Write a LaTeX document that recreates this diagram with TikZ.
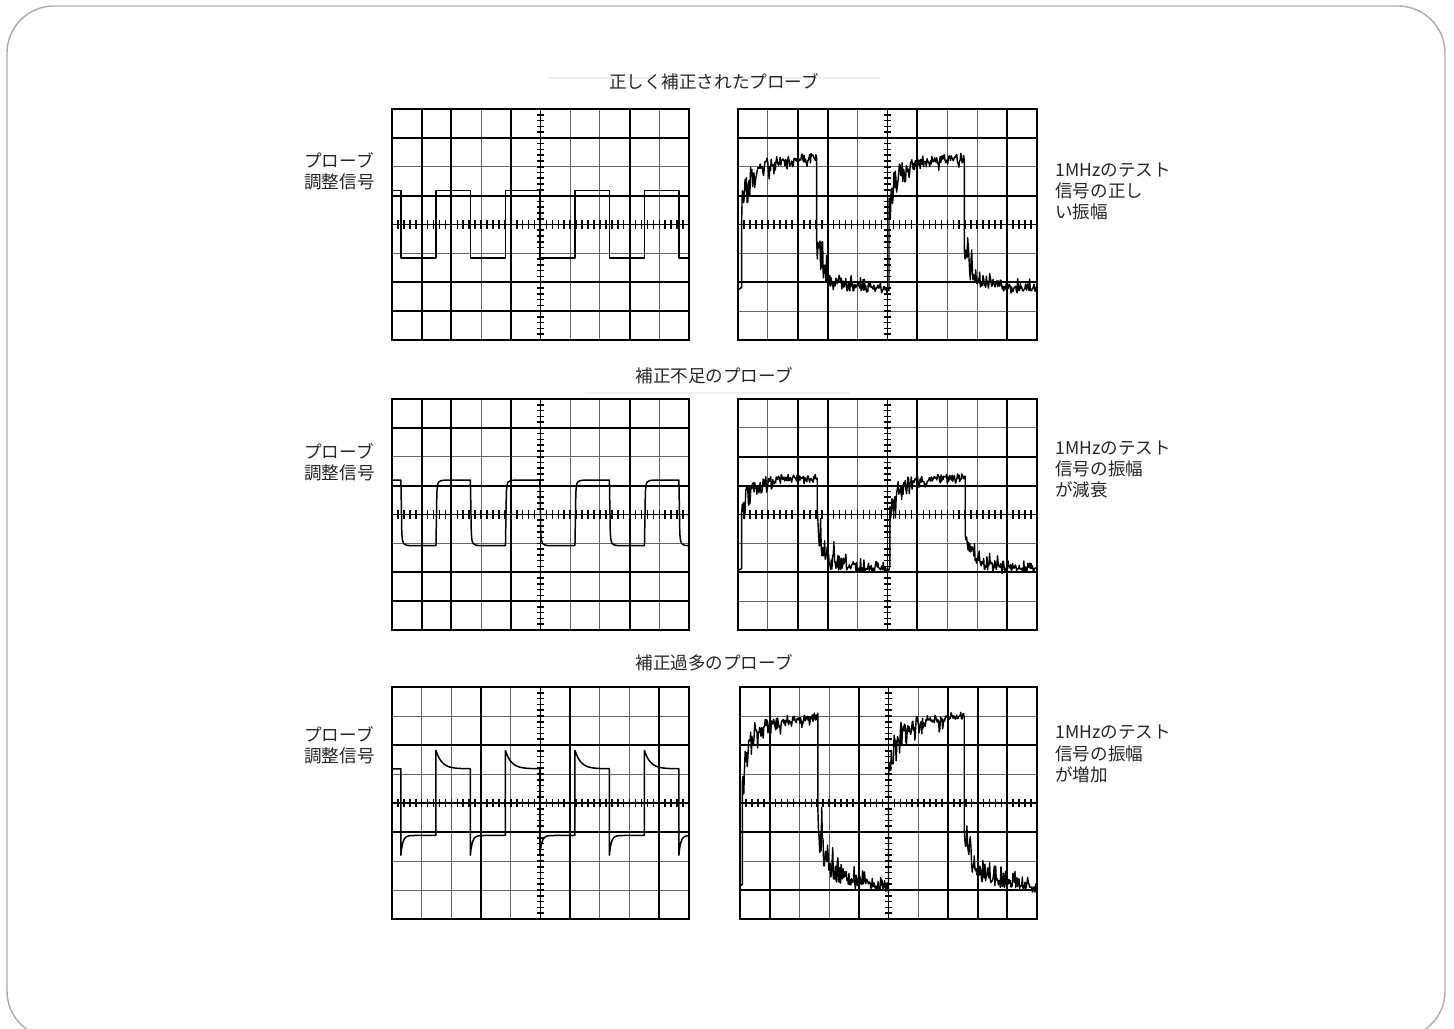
\documentclass[tikz,border=0pt]{standalone}
\usepackage{fontspec}
\setmainfont{Noto Sans CJK JP}
\tikzset{
  gridthin/.style={black!60, line width=0.55pt},
  gridthick/.style={black, line width=1.1pt},
  screenframe/.style={black, line width=1.3pt},
  scaletick/.style={black, line width=0.9pt},
  trace/.style={black, line width=0.85pt, line join=round},
  ringtrace/.style={black, line width=0.8pt, line join=round},
  caption/.style={text=black!85, inner sep=0pt},
  sidetext/.style={text=black!85, inner sep=0pt, align=left, anchor=west},
  declare function={ring(\t,\s)=\s*(0.25+exp(-\t/0.5))*rnd*rnd+(0.1+0.15*exp(-\t/0.8))*rand;}
}
% graticule of one screen: 10 x 8 divisions, thick lines given as lists
\newcommand{\screengrid}[2]{%
  \foreach \i in {1,...,9} {\draw[gridthin] (\i,0) -- (\i,8);}
  \foreach \j in {1,...,7} {\draw[gridthin] (0,\j) -- (10,\j);}
  \foreach \i in {#1} {\draw[gridthick] (\i,0) -- (\i,8);}
  \foreach \j in {#2} {\draw[gridthick] (0,\j) -- (10,\j);}
  \draw[gridthick] (0,4) -- (10,4);
  \draw[gridthin, black] (5,0) -- (5,8);
  \foreach \i in {1,...,49} {\draw[scaletick] (\i/5,3.86) -- (\i/5,4.14);}
  \foreach \j in {1,...,39} {\draw[scaletick] (4.89,\j/5) -- (5.11,\j/5);}
  \draw[screenframe] (0,0) rectangle (10,8);
}
\begin{document}
\begin{tikzpicture}
  \pgfmathsetseed{17}
  \useasboundingbox (0,0) rectangle (29.08,20.56);
  \draw[rounded corners=0.94cm, gray!65, line width=0.8pt] (0.14,-0.2) rectangle (28.9,20.44);
  \draw[black!6, line width=0.6pt] (10.96,19.0) -- (17.6,19.0);
  \draw[black!6, line width=0.6pt] (11.7,12.7) -- (17.0,12.7);

  % Correctly compensated probe
  \node[caption] (titleok) at (14.28,18.92) {正しく補正されたプローブ};
  \node[sidetext] (leftok) at (6.08,17.14) {プローブ\\調整信号};
  \node[sidetext] (rightok) at (21.1,16.73) {1MHzのテスト\\信号の正し\\い振幅};
  \begin{scope}[shift={(7.84,13.76)}, x=0.594cm, y=0.5775cm]
    \screengrid{1,2,4,8}{7,5,2,1}
    \draw[trace] (0,5.18)
      \foreach \f [evaluate=\f as \r using \f+1.18] in {0.30,2.64,4.98,7.32} {
        -- (\f,5.18) -- (\f,2.84) -- (\r,2.84) -- (\r,5.18)
      } -- (9.66,5.18) -- (9.66,2.84) -- (10,2.84);
  \end{scope}
  \begin{scope}[shift={(14.76,13.76)}, x=0.598cm, y=0.5775cm]
    \screengrid{2,3,6,9}{7,5,2}
    \draw[ringtrace] (0.02,1.75) -- (0.12,1.82)
      \foreach \segx/\segw/\lva/\lvb/\lvd/\lvr in
        {0.12/2.51/6.10/6.40/-1.2/-1.4, 2.63/2.42/1.85/1.65/1.2/1.4,
         5.05/2.52/6.12/6.40/-1.2/-1.4, 7.57/2.43/1.85/1.68/1.2/1.4} {
        -- plot[domain=0:\segw, samples=110]
           ({\segx+\x},{\lva+(\lvb-\lva)*\x/\segw+\lvd*exp(-\x/0.2)+ring(\x,\lvr)})
      };
  \end{scope}

  % Undercompensated probe
  \node[caption] (titleunder) at (14.28,13.04) {補正不足のプローブ};
  \node[sidetext] (leftunder) at (6.08,11.32) {プローブ\\調整信号};
  \node[sidetext] (rightunder) at (21.1,11.17) {1MHzのテスト\\信号の振幅\\が減衰};
  \begin{scope}[shift={(7.84,7.96)}, x=0.594cm, y=0.5775cm]
    \screengrid{1,2,4,8}{7,5,2,1}
    \draw[trace] (0,5.19)
      \foreach \f [evaluate=\f as \r using \f+1.18] in {0.30,2.64,4.98,7.32} {
        -- (\f,5.19) -- (\f+0.03,3.35) .. controls (\f+0.06,2.95) .. (\f+0.32,2.92)
        -- (\r,2.92) -- (\r+0.03,4.75) .. controls (\r+0.06,5.17) .. (\r+0.32,5.19)
      } -- (9.66,5.19) -- (9.69,3.35) .. controls (9.72,2.95) .. (9.96,2.92) -- (10,2.92);
  \end{scope}
  \begin{scope}[shift={(14.76,7.96)}, x=0.598cm, y=0.5775cm]
    \screengrid{2,3,6,9}{6,5,2}
    \draw[ringtrace] (0.02,2.08) -- (0.12,2.12)
      \foreach \segx/\segw/\lva/\lvb/\lvd/\lvr in
        {0.12/2.53/5.22/5.32/-1.0/-1.1, 2.65/2.43/2.15/2.05/1.1/1.3,
         5.08/2.52/5.22/5.32/-1.0/-1.1, 7.60/2.40/2.12/2.05/1.1/1.3} {
        -- plot[domain=0:\segw, samples=110]
           ({\segx+\x},{\lva+(\lvb-\lva)*\x/\segw+\lvd*exp(-\x/0.2)+ring(\x,\lvr)})
      };
  \end{scope}

  % Overcompensated probe
  \node[caption] (titleover) at (14.28,7.30) {補正過多のプローブ};
  \node[sidetext] (leftover) at (6.08,5.66) {プローブ\\調整信号};
  \node[sidetext] (rightover) at (21.1,5.48) {1MHzのテスト\\信号の振幅\\が増加};
  \begin{scope}[shift={(7.84,2.18)}, x=0.594cm, y=0.58cm]
    \screengrid{3,6,9}{6,3}
    \draw[trace] (0,5.18)
      \foreach \f [evaluate=\f as \r using \f+1.18] in {0.30,2.64,4.98,7.32} {
        -- (\f,5.18) -- (\f,2.2)
        -- plot[domain=0.02:1.18, samples=30] ({\f+\x},{2.88-0.62*exp(-\x/0.07)})
        -- (\r,5.81)
        -- plot[domain=0.02:1.16, samples=30] ({\r+\x},{5.18+0.63*exp(-\x/0.2)})
      } -- (9.66,5.18) -- (9.66,2.2)
      -- plot[domain=0.02:0.34, samples=12] ({9.66+\x},{2.88-0.62*exp(-\x/0.07)});
  \end{scope}
  \begin{scope}[shift={(14.80,2.18)}, x=0.594cm, y=0.58cm]
    \screengrid{1,4,7,8,9}{6,3,1}
    \draw[ringtrace] (0.02,1.15) -- (0.08,1.2)
      \foreach \segx/\segw/\lva/\lvb/\lvd/\lvr in
        {0.08/2.54/6.76/7.04/-1.7/-1.6, 2.62/2.38/1.40/0.95/1.5/2.0,
         5.00/2.55/6.80/7.06/-1.7/-1.6, 7.55/2.45/1.40/0.98/1.5/2.0} {
        -- plot[domain=0:\segw, samples=110]
           ({\segx+\x},{\lva+(\lvb-\lva)*\x/\segw+\lvd*exp(-\x/0.2)+ring(\x,\lvr)})
      };
  \end{scope}
\end{tikzpicture}
\end{document}
